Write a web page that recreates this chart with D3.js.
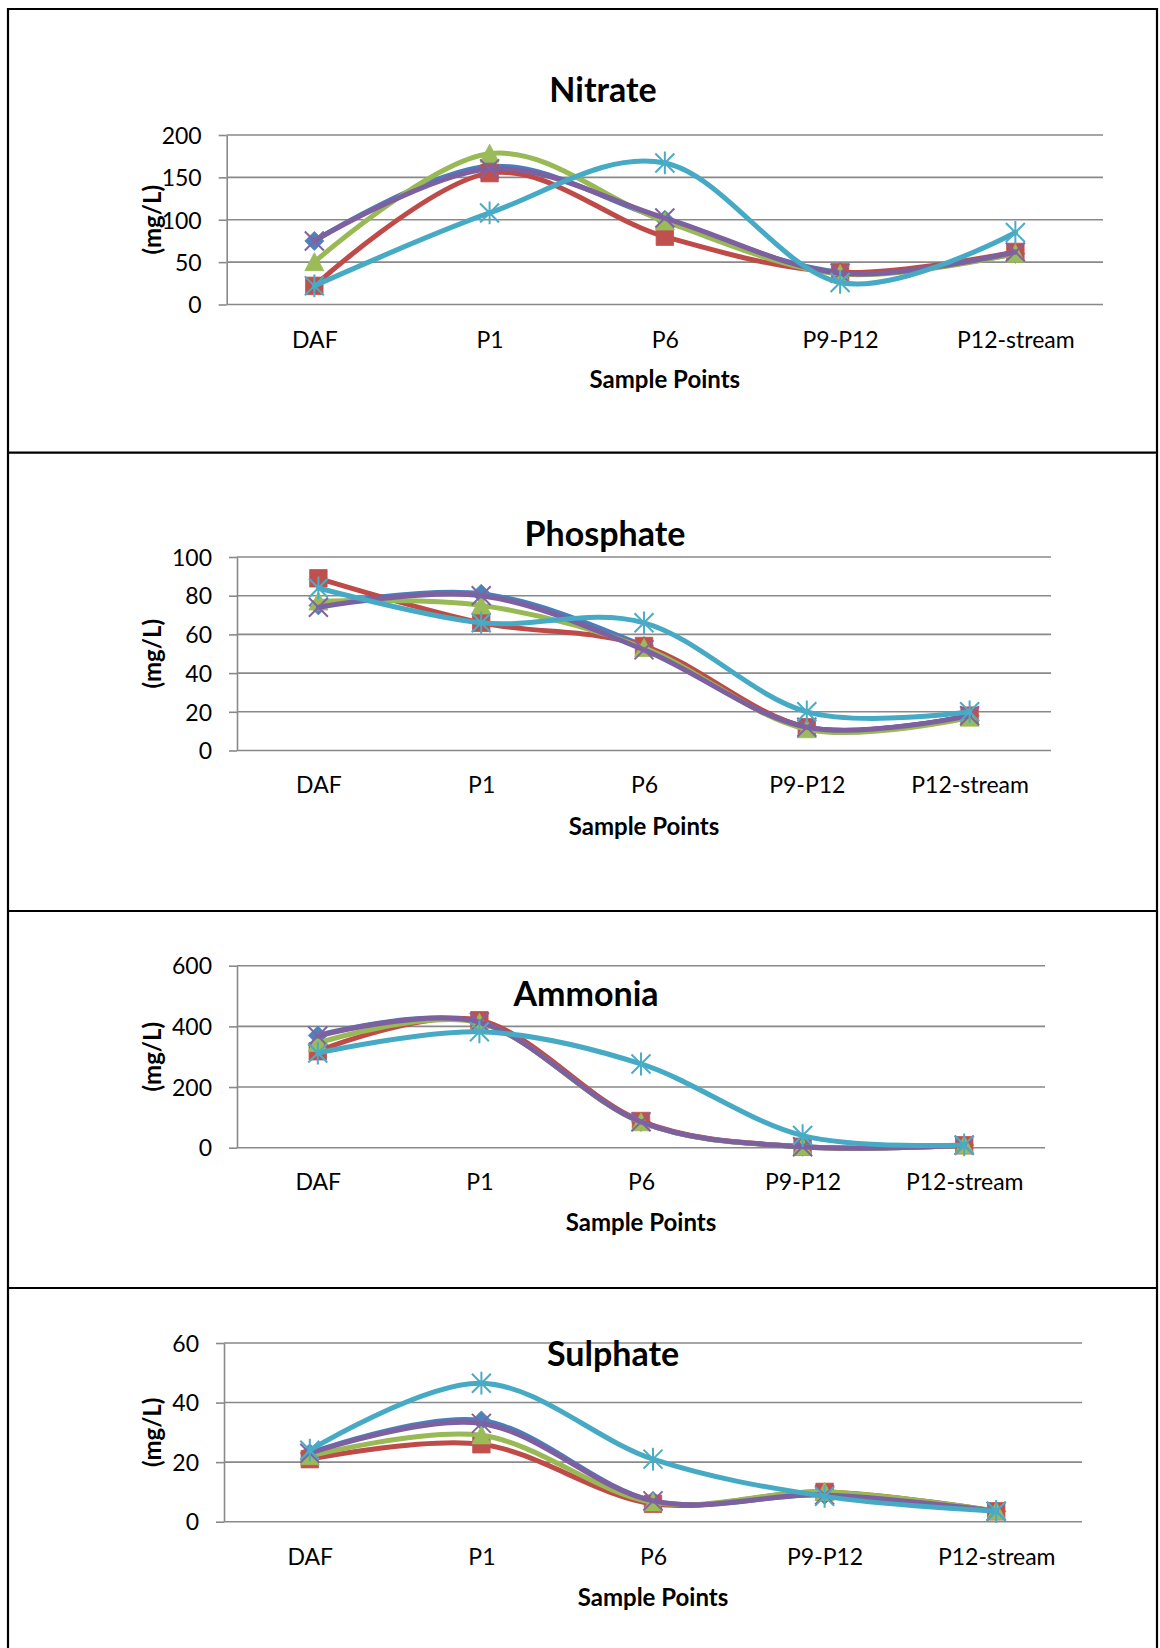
<!DOCTYPE html>
<html>
<head>
<meta charset="utf-8">
<script src="https://cdn.jsdelivr.net/npm/d3@7"></script>
<style>
  html, body { margin: 0; padding: 0; background: #fff; }
  svg { display: block; font-family: Lato, "Open Sans", "DejaVu Sans", sans-serif; }
</style>
</head>
<body>
<svg id="chart" width="1160" height="1648"></svg>
<script>
// Sample points along the treatment train
const categories = ["DAF", "P1", "P6", "P9-P12", "P12-stream"];

// Five sampling runs (one line each)
const runs = ["Run 1", "Run 2", "Run 3", "Run 4", "Run 5"];

// Concentrations in mg/L, one array per run
const nitrateValues = [
  [75, 163, 100, 38, 60],
  [22, 155, 80, 38, 62],
  [50, 178, 98, 36, 60],
  [75, 160, 102, 37, 62],
  [22, 108, 167, 26, 85]
];
const phosphateValues = [
  [75, 81, 54, 12, 18],
  [89, 66, 54, 12, 18],
  [77, 75, 53, 11, 17],
  [74, 80, 52, 12, 18],
  [84, 66, 66, 20, 20]
];
const ammoniaValues = [
  [370, 415, 85, 3, 8],
  [318, 420, 88, 3, 8],
  [345, 412, 84, 3, 8],
  [368, 414, 85, 3, 8],
  [312, 382, 276, 40, 9]
];
const sulphateValues = [
  [23, 34, 7, 9, 3.5],
  [21, 26, 6, 10, 3.5],
  [22, 29, 6.5, 10, 3.5],
  [23, 33, 7, 9, 3.5],
  [24, 46.5, 21, 8.5, 3.5]
];

// Axis ticks
const nitrateTicks = [0, 50, 100, 150, 200];
const phosphateTicks = [0, 20, 40, 60, 80, 100];
const ammoniaTicks = [0, 200, 400, 600];
const sulphateTicks = [0, 20, 40, 60];

const titles = ["Nitrate", "Phosphate", "Ammonia", "Sulphate"];
const xTitle = "Sample Points";
const yTitle = "(mg/L)";

// Styling per run
const lineColors = ["#4A7EBB", "#BE4B48", "#98B954", "#7D60A0", "#46AAC5"];
const markerColors = ["#4F81BD", "#C0504D", "#9BBB59", "#8064A2", "#4BACC6"];
const markerShapes = ["diamond", "square", "triangle", "x", "star"];

// Panel geometry
const layout = [
  { x0: 226.7, x1: 1103, y0: 304.5, y1: 135,  titleX: 603, titleY: 102,    catY: 340,   xTitleY: 379 },
  { x0: 237,   x1: 1051, y0: 750.5, y1: 557,  titleX: 605, titleY: 546,    catY: 785,   xTitleY: 826 },
  { x0: 237,   x1: 1045, y0: 1147.7, y1: 965.7, titleX: 586, titleY: 1005.5, catY: 1182, xTitleY: 1222 },
  { x0: 224,   x1: 1082, y0: 1521.7, y1: 1343, titleX: 613, titleY: 1366,  catY: 1556.7, xTitleY: 1597 }
];

const datasets = [nitrateValues, phosphateValues, ammoniaValues, sulphateValues];
const tickSets = [nitrateTicks, phosphateTicks, ammoniaTicks, sulphateTicks];

const svg = d3.select("#chart");
const gridColor = "#898989";

// Frame around the four panels
const frame = svg.append("g").attr("stroke", "#000").attr("stroke-width", 2.2).attr("fill", "none");
frame.append("path").attr("d", "M8,1648 L8,9 L1157,9 L1157,1648");
[452.7, 911, 1288].forEach(yy => {
  frame.append("line").attr("x1", 8).attr("x2", 1157).attr("y1", yy).attr("y2", yy);
});

function markerPath(shape, r) {
  switch (shape) {
    case "diamond": return `M0,${-r}L${r},0L0,${r}L${-r},0Z`;
    case "square": return `M${-r * 0.92},${-r * 0.92}H${r * 0.92}V${r * 0.92}H${-r * 0.92}Z`;
    case "triangle": return `M0,${-r}L${r},${r * 0.9}L${-r},${r * 0.9}Z`;
    case "x": return `M${-r},${-r}L${r},${r}M${r},${-r}L${-r},${r}`;
    case "star": return `M${-r},${-r}L${r},${r}M${r},${-r}L${-r},${r}M0,${-r * 1.2}L0,${r * 1.2}`;
  }
}

datasets.forEach((data, p) => {
  const L = layout[p];
  const ticks = tickSets[p];
  const g = svg.append("g");

  const x = d3.scalePoint().domain(categories).range([L.x0, L.x1]).padding(0.5);
  const y = d3.scaleLinear().domain([0, d3.max(ticks)]).range([L.y0, L.y1]);

  // Horizontal gridlines
  g.append("g").selectAll("line").data(ticks).join("line")
    .attr("x1", L.x0).attr("x2", L.x1)
    .attr("y1", d => y(d)).attr("y2", d => y(d))
    .attr("stroke", gridColor).attr("stroke-width", 1.6);

  // Value axis
  const yAxis = g.append("g").attr("transform", `translate(${L.x0},0)`)
    .call(d3.axisLeft(y).tickValues(ticks).tickSizeInner(8).tickSizeOuter(0).tickPadding(17));
  yAxis.select(".domain").attr("stroke", gridColor).attr("stroke-width", 1.6);
  yAxis.selectAll(".tick line").attr("stroke", gridColor).attr("stroke-width", 1.6);
  yAxis.selectAll(".tick text").attr("font-size", 23).attr("fill", "#000")
    .attr("font-family", "Lato, 'Open Sans', sans-serif").attr("dy", "0.36em");

  // Category axis labels
  const xAxis = g.append("g").attr("transform", `translate(0,${L.y0})`)
    .call(d3.axisBottom(x).tickSize(0));
  xAxis.select(".domain").remove();
  xAxis.selectAll(".tick text").attr("font-size", 23).attr("fill", "#000")
    .attr("font-family", "Lato, 'Open Sans', sans-serif")
    .attr("y", L.catY - L.y0).attr("dy", "0.36em");

  // Axis titles
  g.append("text").attr("x", (L.x0 + L.x1) / 2).attr("y", L.xTitleY).attr("dy", "0.36em")
    .attr("text-anchor", "middle").attr("font-size", 24).attr("font-weight", "bold").text(xTitle);
  g.append("text")
    .attr("transform", `translate(151,${(L.y0 + L.y1) / 2}) rotate(-90)`)
    .attr("text-anchor", "middle").attr("dominant-baseline", "central")
    .attr("font-size", 24).attr("font-weight", "bold").text(yTitle);

  // Chart title
  g.append("text").attr("x", L.titleX).attr("y", L.titleY)
    .attr("text-anchor", "middle").attr("font-size", 34).attr("font-weight", "bold").text(titles[p]);

  // Smoothed lines with markers, drawn run by run
  const line = d3.line()
    .x((d, i) => x(categories[i]))
    .y(d => y(d))
    .curve(d3.curveCardinal.tension(0));

  data.forEach((vals, s) => {
    const sg = g.append("g").attr("class", "run").attr("data-run", runs[s]);
    sg.append("path").attr("d", line(vals))
      .attr("fill", "none").attr("stroke", lineColors[s]).attr("stroke-width", 5)
      .attr("stroke-linejoin", "round").attr("stroke-linecap", "round");
    const shape = markerShapes[s];
    const stroked = shape === "x" || shape === "star";
    sg.selectAll("path.m").data(vals).join("path").attr("class", "m")
      .attr("transform", (d, i) => `translate(${x(categories[i])},${y(d)})`)
      .attr("d", markerPath(shape, 9.5))
      .attr("fill", stroked ? "none" : markerColors[s])
      .attr("stroke", markerColors[s])
      .attr("stroke-width", stroked ? 2 : 0.8);
  });
});
</script>
</body>
</html>
